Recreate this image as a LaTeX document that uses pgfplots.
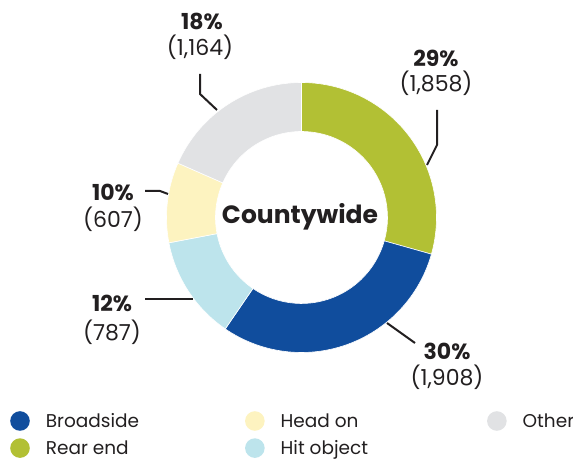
\documentclass[border=0pt]{standalone}
\usepackage{fontspec}
\setmainfont{Poppins}
\usepackage{pgfplots}
\usepackage{pgfplotstable}
\pgfplotsset{compat=1.18}
\definecolor{c0}{RGB}{178,192,52}
\definecolor{c1}{RGB}{16,77,157}
\definecolor{c2}{RGB}{189,228,236}
\definecolor{c3}{RGB}{253,243,192}
\definecolor{c4}{RGB}{225,226,228}
\definecolor{txt}{RGB}{34,31,32}

% clockwise from 12 o'clock
\pgfplotstableread{
label count
Rear 1858
Broadside 1908
Hit 787
Head 607
Other 1164
}\datatable

\begin{document}
\begin{tikzpicture}
\begin{axis}[
  x=1pt, y=1pt,
  xmin=0, xmax=573, ymin=0, ymax=462,
  hide axis, clip=false,
  legend columns=3,
  legend cell align=left,
  legend image code/.code={\fill (0pt,0pt) circle (9.8pt);},
  legend style={at={(axis cs:10,51)}, anchor=north west, draw=none, fill=none,
    inner sep=0pt,
    font=\fontsize{18.5}{22}\selectfont, text=txt,
    row sep=7.5pt,
    /tikz/every odd column/.append style={column sep=14pt},
    /tikz/column 2/.style={column sep=104pt},
    /tikz/column 4/.style={column sep=117pt}},
]
\path (axis cs:0,0) rectangle (axis cs:573,462);
\def\cx{301.5}
\def\cy{244.5}
\def\Ro{135pt}
\def\Ri{86pt}
% total
\def\total{0}
\pgfplotsforeachungrouped \i in {0,...,4}{%
  \pgfplotstablegetelem{\i}{count}\of\datatable
  \pgfmathsetmacro\total{\total+\pgfplotsretval}%
}
\def\cum{0}
\pgfplotsforeachungrouped \i in {0,...,4}{%
  \pgfplotstablegetelem{\i}{count}\of\datatable
  \pgfmathsetmacro\a{90-\cum/\total*360}%
  \pgfmathsetmacro\cumn{\cum+\pgfplotsretval}%
  \pgfmathsetmacro\b{90-\cumn/\total*360}%
  \edef\temp{\noexpand\filldraw[fill=c\i, draw=white, line width=0.6pt, shift={(axis cs:\cx,\cy)}]
    (\a:\Ro) arc[start angle=\a, end angle=\b, radius=\Ro]
    -- (\b:\Ri) arc[start angle=\b, end angle=\a, radius=\Ri] -- cycle;}%
  \temp
  \let\cum\cumn
}
\node[font=\fontsize{25}{30}\selectfont\bfseries, text=txt] at (axis cs:300,245) {Countywide};

% leader lines
\draw[txt, line width=2pt] (axis cs:200,388) -- (axis cs:200,368) -- (axis cs:217,352);
\draw[txt, line width=2pt] (axis cs:437,352) -- (axis cs:437,317) -- (axis cs:427,297);
\draw[txt, line width=2pt] (axis cs:387,139) -- (axis cs:415,119);
\draw[txt, line width=2pt] (axis cs:145,271) -- (axis cs:160,271) -- (axis cs:168,268);
\draw[txt, line width=2pt] (axis cs:145,163) -- (axis cs:193,163);

% labels
\tikzset{pct/.style={font=\fontsize{22}{26}\selectfont\bfseries, text=txt, inner sep=0pt},
         cnt/.style={font=\fontsize{22}{26}\selectfont, text=txt, inner sep=0pt}}
\node[pct] at (axis cs:202,441) {18\%};
\node[cnt] at (axis cs:200,415) {(1,164)};
\node[pct] at (axis cs:436,404) {29\%};
\node[cnt] at (axis cs:436,379) {(1,858)};
\node[pct] at (axis cs:447,111) {30\%};
\node[cnt] at (axis cs:447,85) {(1,908)};
\node[pct] at (axis cs:113,270) {10\%};
\node[cnt] at (axis cs:113,243) {(607)};
\node[pct] at (axis cs:112,159) {12\%};
\node[cnt] at (axis cs:112,130) {(787)};

% legend
\addlegendimage{fill=c1, draw=none}
\addlegendentry{Broadside}
\addlegendimage{fill=c3, draw=none}
\addlegendentry{Head on}
\addlegendimage{fill=c4, draw=none}
\addlegendentry{Other}
\addlegendimage{fill=c0, draw=none}
\addlegendentry{Rear end}
\addlegendimage{fill=c2, draw=none}
\addlegendentry{Hit object}
\end{axis}
\pgfresetboundingbox
\path[use as bounding box] (current axis.south west) rectangle (current axis.north east);
\end{tikzpicture}
\end{document}
